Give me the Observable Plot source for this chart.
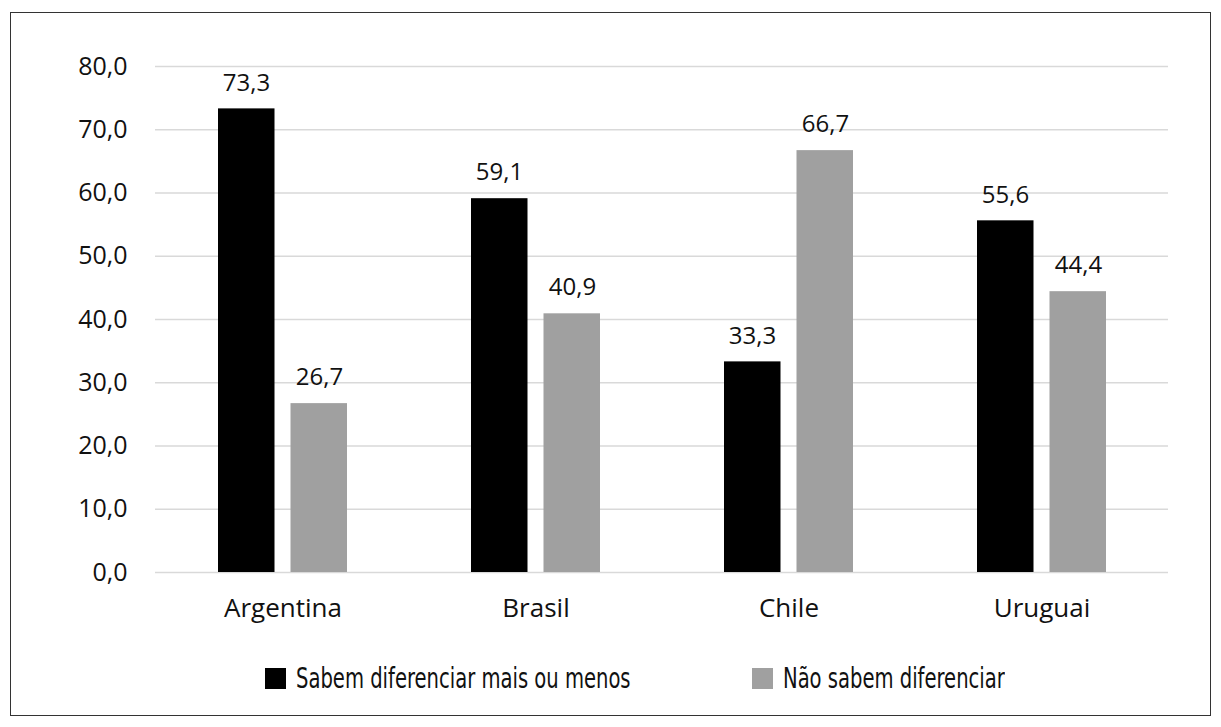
<!DOCTYPE html>
<html><head><meta charset="utf-8">
<script src="https://cdn.jsdelivr.net/npm/d3@7"></script>
<script src="https://cdn.jsdelivr.net/npm/@observablehq/plot@0.6"></script>
<style>
body{margin:0;background:#fff;width:1221px;height:727px;overflow:hidden;position:relative;}
#frame{position:absolute;left:10px;top:12px;width:1201px;height:704px;border:1.5px solid #333;box-sizing:border-box;}
#chart{position:absolute;left:0;top:0;}
.leg{position:absolute;top:668px;height:21px;display:flex;align-items:center;font-family:"Liberation Sans Narrow","DejaVu Sans Condensed",sans-serif;font-size:29px;color:#111;}
.sw{width:21px;height:21px;flex:none;}
.lt{position:absolute;left:31px;white-space:nowrap;transform:scaleX(0.75);transform-origin:left center;line-height:21px;}
</style></head>
<body>
<div id="frame"></div>
<div id="chart"></div>
<div id="legend"></div>
<script>
const countries = ["Argentina", "Brasil", "Chile", "Uruguai"];
const sabem = [73.3, 59.1, 33.3, 55.6];
const naoSabem = [26.7, 40.9, 66.7, 44.4];
const seriesNames = ["Sabem diferenciar mais ou menos", "Não sabem diferenciar"];
const seriesColors = ["#000000", "#a0a0a0"];
const yTicks = [0, 10, 20, 30, 40, 50, 60, 70, 80];

const fmt = v => d3.format(".1f")(v).replace(".", ",");
const rowsA = countries.map((c, i) => ({country: c, value: sabem[i]}));
const rowsB = countries.map((c, i) => ({country: c, value: naoSabem[i]}));

const chart = Plot.plot({
  width: 1221,
  height: 640,
  marginLeft: 155,
  marginRight: 53,
  marginTop: 66,
  marginBottom: 68,
  style: {fontFamily: "'Open Sans', sans-serif", fontSize: "24px", color: "#111", background: "transparent"},
  x: {domain: countries, padding: 0, label: null},
  y: {domain: [0, 80], label: null},
  marks: [
    Plot.ruleY(yTicks, {stroke: "#d9d9d9", strokeWidth: 1.5}),
    Plot.axisY({ticks: yTicks, tickFormat: fmt, tickSize: 0, tickPadding: 28, fontSize: 25, label: null}),
    Plot.axisX({tickSize: 0, tickPadding: 26, fontSize: 26, label: null}),
    Plot.barY(rowsA, {x: "country", y: "value", fill: seriesColors[0], insetLeft: 62, insetRight: 134.5}),
    Plot.barY(rowsB, {x: "country", y: "value", fill: seriesColors[1], insetLeft: 134.5, insetRight: 62}),
    Plot.text(rowsA, {x: "country", y: "value", text: d => fmt(d.value), dx: -36.5, dy: -26, fontSize: 24, fill: "#111"}),
    Plot.text(rowsB, {x: "country", y: "value", text: d => fmt(d.value), dx: 36.5, dy: -26, fontSize: 24, fill: "#111"})
  ]
});
document.getElementById("chart").appendChild(chart);

const legend = document.getElementById("legend");
const legLefts = [265, 752];
seriesNames.forEach((name, i) => {
  const item = document.createElement("div");
  item.className = "leg";
  item.style.left = legLefts[i] + "px";
  const sw = document.createElement("div");
  sw.className = "sw";
  sw.style.background = seriesColors[i];
  const t = document.createElement("span");
  t.className = "lt";
  t.textContent = name;
  item.appendChild(sw);
  item.appendChild(t);
  legend.appendChild(item);
});
</script>
</body></html>
